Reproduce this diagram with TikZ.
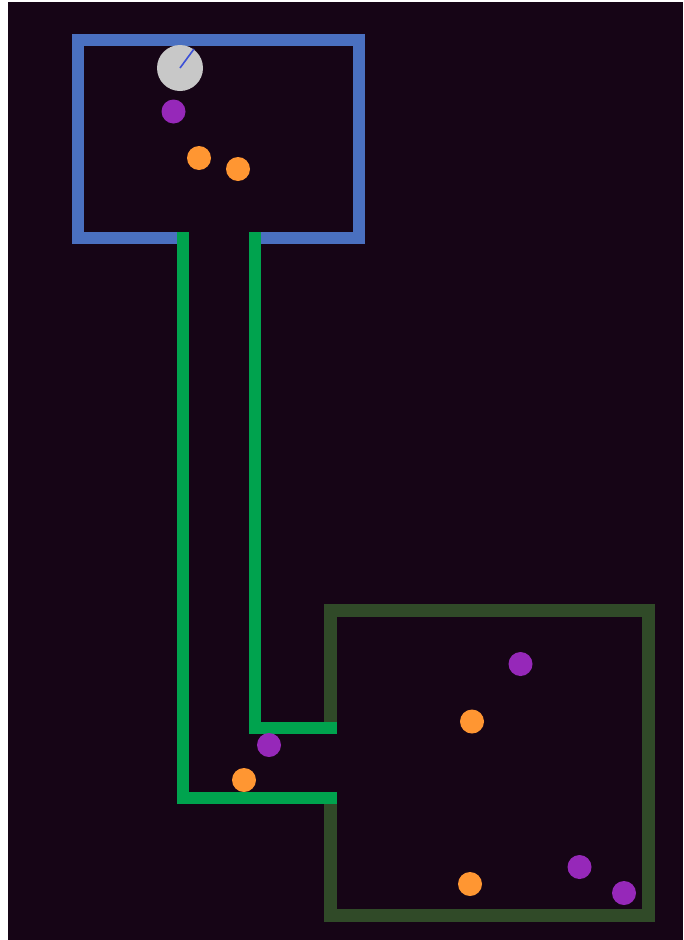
\documentclass[tikz,border=0pt]{standalone}
\usetikzlibrary{arrows.meta}

\definecolor{bgdark}{RGB}{22,5,22}
\definecolor{wallblue}{RGB}{74,112,192}
\definecolor{pipegreen}{RGB}{0,163,78}
\definecolor{walldkgreen}{RGB}{48,74,40}
\definecolor{dotorange}{RGB}{255,150,50}
\definecolor{dotpurple}{RGB}{150,40,185}
\definecolor{agentgrey}{RGB}{200,200,200}
\definecolor{needleblue}{RGB}{60,80,215}

\begin{document}
\begin{tikzpicture}[
    x=1pt, y=-1pt,
    wall/.style={line width=12pt, line join=miter},
    dot/.style={radius=12pt},
]
% Canvas
\fill[white] (0,0) rectangle (683,940);
\fill[bgdark] (8,2) rectangle (683,940);
\useasboundingbox (0,0) rectangle (683,940);

% Upper room (blue)
\draw[wall,wallblue] (183,238) -- (78,238) -- (78,39.5)
    -- (359,39.5) -- (359,238) -- (254,238);

% Lower room (dark green)
\draw[wall,walldkgreen,line width=13pt] (330,727) -- (330,610.5)
    -- (648,610.5) -- (648,915) -- (330,915) -- (330,798);

% Corridor (green)
\draw[wall,pipegreen] (183,232) -- (183,798) -- (337,798);
\draw[wall,pipegreen] (254.5,232) -- (254.5,727.5) -- (337,727.5);

% Orange dots
\foreach \x/\y in {199/158, 238/169, 244/780, 472/721.5, 470/884} {
    \fill[dotorange] (\x,\y) circle[dot];
}

% Purple dots
\foreach \x/\y in {173.5/111.5, 269/745, 520.5/664, 579.5/867, 624/893} {
    \fill[dotpurple] (\x,\y) circle[dot];
}

% Agent with heading
\fill[agentgrey] (180,68) circle (23pt);
\draw[needleblue,line width=1.6pt] (180,68) -- (194,49);
\end{tikzpicture}
\end{document}
